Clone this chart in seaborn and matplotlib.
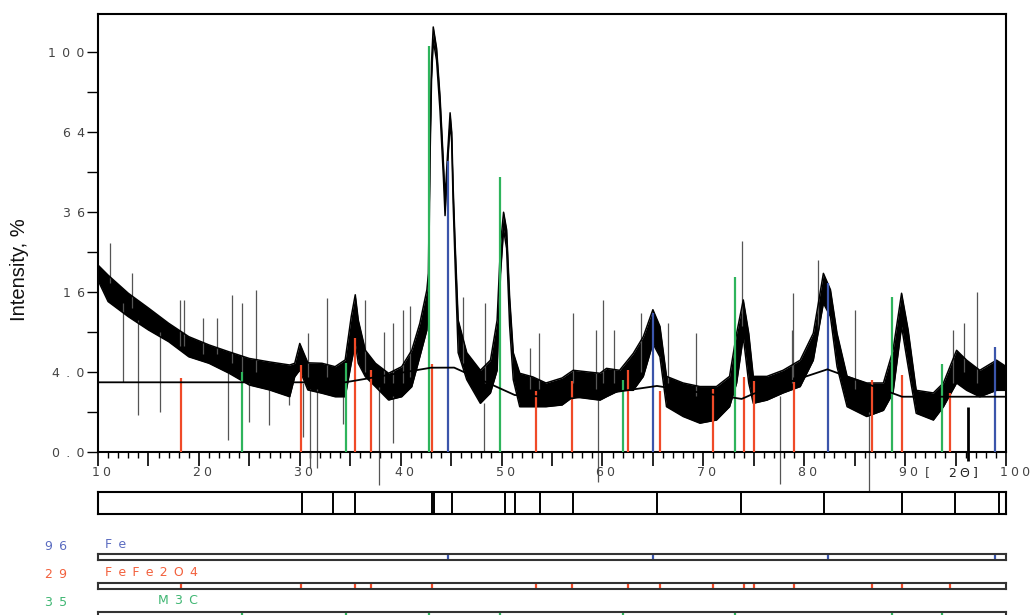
import numpy as np
import pandas as pd
import matplotlib
matplotlib.use("Agg")
import matplotlib.pyplot as plt
from matplotlib.ticker import MultipleLocator, NullFormatter
from matplotlib.transforms import ScaledTranslation
import seaborn as sns

sns.set_theme(style="white")
plt.rcParams['font.family'] = ['DejaVu Sans']

# ---- measured pattern (upper / lower edge of the noisy trace), 2theta in degrees ----
two_theta = [10.0, 11.0, 13.0, 15.0, 17.0, 19.0, 21.0, 23.0, 25.0, 27.0, 29.0, 29.5, 30.0, 30.8,
             32.2, 33.5, 34.5, 35.1, 35.5, 35.8, 36.5, 37.5, 38.8, 40.1, 41.1, 41.9, 42.6, 42.75,
             42.9, 43.06, 43.23, 43.56, 43.9, 44.24, 44.4, 44.64, 44.9, 45.06, 45.2, 45.4, 45.7,
             46.55, 47.9, 48.9, 49.56, 49.9, 50.2, 50.5, 50.8, 51.16, 51.8, 53.1, 54.4, 56.0, 57.1,
             59.75, 60.4, 61.7, 63.05, 64.05, 65.0, 65.7, 66.35, 68.0, 69.66, 71.3, 72.6, 73.3,
             73.96, 74.5, 74.95, 76.3, 77.9, 79.6, 80.9, 81.9, 82.6, 83.25, 84.25, 86.2, 87.85,
             88.8, 89.65, 90.3, 91.1, 92.8, 93.8, 95.1, 96.1, 97.4, 99.06, 100.0]
upper = [21.9, 19.6, 15.8, 13.0, 10.4, 8.35, 7.2, 6.3, 5.5, 5.1, 4.76, 4.95, 7.4, 5.0,
         4.95, 4.58, 5.33, 11.5, 15.5, 10.9, 6.5, 4.95, 3.9, 4.58, 6.5, 10.4, 16.5, 20.0,
         60.0, 95.0, 113.0, 102.0, 79.0, 52.0, 40.0, 55.0, 72.0, 64.0, 44.0, 27.0, 10.9,
         6.2, 4.2, 5.3, 10.9, 27.0, 36.0, 31.0, 15.0, 6.2, 3.9, 3.55, 3.0, 3.45, 4.2,
         3.9, 4.4, 4.2, 6.1, 8.35, 12.7, 9.9, 3.6, 3.0, 2.7, 2.7, 3.6, 8.85,
         14.5, 8.85, 3.6, 3.6, 4.2, 5.3, 8.85, 20.0, 16.5, 8.85, 3.6, 3.0, 3.0,
         6.5, 15.8, 9.35, 2.4, 2.2, 3.0, 6.5, 5.3, 4.2, 5.3, 4.6]
lower = [18.5, 14.2, 11.5, 9.35, 7.65, 5.7, 4.95, 3.9, 2.83, 2.43, 1.93, 3.57, 4.23, 2.43,
         2.18, 1.93, 1.93, 4.95, 7.4, 4.95, 3.57, 2.69, 1.71, 1.93, 2.69, 5.7, 9.35, 14.0,
         52.0, 87.0, 106.0, 96.0, 73.0, 47.0, 35.0, 51.0, 68.0, 60.0, 39.0, 22.0, 6.2,
         3.3, 1.5, 2.2, 4.2, 20.0, 31.0, 26.0, 10.0, 3.3, 1.3, 1.3, 1.3, 1.4, 1.93,
         1.7, 1.93, 2.4, 2.4, 3.6, 7.4, 5.7, 1.3, 0.8, 0.53, 0.65, 1.3, 3.0,
         8.35, 3.0, 1.5, 1.7, 2.2, 2.7, 5.3, 13.9, 11.5, 4.6, 1.3, 0.8, 1.1,
         2.2, 9.9, 4.6, 0.95, 0.65, 1.3, 3.0, 2.4, 1.93, 2.4, 2.4]

# isolated noise spikes
spike_up_pos = [11.2, 13.4, 18.1, 18.5, 20.4, 21.8, 23.25, 24.24, 25.7, 30.78, 32.7, 36.46, 38.3,
                39.27, 40.26, 40.9, 46.2, 48.35, 52.8, 53.7, 57.1, 59.4, 60.1, 61.1, 63.8, 66.5,
                69.3, 73.8, 78.75, 78.9, 81.4, 85.0, 94.7, 95.8, 97.1]
spike_up_top = [27.3, 20.0, 14.5, 14.5, 11.2, 11.2, 15.5, 13.9, 16.5, 8.85, 14.8, 14.5, 9.1,
                10.4, 12.7, 13.3, 15.1, 13.9, 6.8, 8.85, 12.1, 9.35, 14.5, 9.35, 12.1, 10.4,
                8.85, 28.0, 9.35, 15.8, 23.1, 12.7, 9.35, 10.4, 16.1]
spike_up_base = [18.0, 13.0, 7.0, 7.0, 6.0, 6.0, 5.0, 4.0, 4.0, 3.5, 3.5, 4.0, 3.0,
                 3.0, 3.0, 3.5, 5.0, 3.0, 2.5, 2.5, 3.0, 2.5, 3.0, 3.0, 4.0, 3.0,
                 2.0, 10.0, 3.0, 3.5, 9.0, 2.5, 3.0, 4.0, 3.0]
spike_dn_pos = [12.5, 13.93, 16.1, 22.9, 24.96, 26.9, 28.9, 30.3, 31.0, 31.67, 34.3, 37.88,
                39.2, 48.3, 59.52, 77.63, 86.41]
spike_dn_bottom = [3.1, 0.87, 1.03, 0.09, 0.58, 0.47, 1.4, 0.15, -0.15, -0.15, 0.5, -0.67,
                   0.05, 0.0, -0.55, -0.63, -1.4]
spike_dn_base = [14.0, 11.0, 9.0, 4.0, 3.0, 2.5, 2.0, 3.0, 2.5, 2.5, 2.0, 2.7,
                 2.0, 1.5, 1.7, 2.0, 1.0]
dip_pos = [96.26]
dip_bottom = [-0.05]
dip_base = [1.3]

# fitted background
bg_theta = [10.0, 34.5, 43.0, 45.3, 51.3, 57.0, 65.4, 73.8, 74.9, 82.3, 89.7, 100.0]
bg_int = [3.06, 3.06, 4.47, 4.48, 2.05, 1.82, 2.75, 1.78, 2.12, 4.3, 1.93, 1.93]

# reference patterns
fe_pos = [44.67, 65.02, 82.33, 98.95]
fe_int = [53.0, 12.2, 18.0, 6.9]
mag_pos = [18.27, 30.1, 35.45, 37.07, 43.08, 53.45, 56.98, 62.57, 65.75, 70.95, 74.0, 75.0,
           79.0, 86.75, 89.65, 94.45]
mag_int = [3.48, 4.76, 8.12, 4.23, 4.84, 2.37, 3.2, 4.23, 2.37, 2.48, 3.57, 3.2,
           3.11, 3.27, 3.7, 2.2]
m3c_pos = [24.26, 34.6, 42.77, 49.8, 62.0, 73.1, 88.67, 93.7]
m3c_int = [4.06, 5.0, 103.0, 47.3, 3.27, 19.1, 15.0, 4.9]

# peak-region dividers
region_edges = [30.19, 33.32, 35.44, 43.1, 43.3, 45.11, 50.3, 51.34, 53.78, 57.09, 65.37,
                73.74, 81.98, 89.65, 94.95, 99.33]

phase_names = ['Fe', 'FeFe2O4', 'M3C']
phase_scores = ['96', '29', '35']

y_ticks = [0, 4, 16, 36, 64, 100]
y_tick_labels = ['0.0', '4.0', '16', '36', '64', '100']
y_minor = [1, 9, 25, 49, 81]
x_label_vals = [10, 20, 30, 40, 50, 60, 70, 80, 90, 100]

FE_C, MAG_C, M3C_C = '#3b55ab', '#f04a28', '#2eb45c'
FE_T, MAG_T, M3C_T = '#5a6bc0', '#f2603c', '#3fb672'
LBL = '#444444'


def spaced(s, gap='\u2002'):
    return gap.join(s)


def fwd(v):
    v = np.asarray(v, dtype=float)
    return np.sign(v) * np.sqrt(np.abs(v))


def inv(v):
    v = np.asarray(v, dtype=float)
    return np.sign(v) * v ** 2


W, H = 1032, 615
fig = plt.figure(figsize=(W / 100, H / 100), dpi=100)

# ---- main pattern axes ----
ax = fig.add_axes([98 / W, 1 - 452.3 / H, 908 / W, 438.3 / H])
ax.set_yscale('function', functions=(fwd, inv))

df = pd.DataFrame({'two_theta': two_theta, 'upper': upper, 'lower': lower})
ax.fill_between(df['two_theta'], df['lower'], df['upper'], color='black', lw=0, zorder=2)
sns.lineplot(data=df, x='two_theta', y='upper', ax=ax, color='black', lw=1.1,
             estimator=None, sort=False, zorder=3)
sns.lineplot(data=df, x='two_theta', y='lower', ax=ax, color='black', lw=1.1,
             estimator=None, sort=False, zorder=3)

ax.vlines(spike_up_pos, spike_up_base, spike_up_top, colors='#555555', lw=0.9, zorder=2)
ax.vlines(spike_dn_pos, spike_dn_bottom, spike_dn_base, colors='#555555', lw=0.9,
          zorder=2, clip_on=False)
ax.vlines(dip_pos, dip_bottom, dip_base, colors='black', lw=2.0, zorder=2, clip_on=False)

bg = pd.DataFrame({'two_theta': bg_theta, 'intensity': bg_int})
sns.lineplot(data=bg, x='two_theta', y='intensity', ax=ax, color='black', lw=1.3,
             estimator=None, sort=False, zorder=5)

ax.vlines(mag_pos, 0, mag_int, colors=MAG_C, lw=1.6, zorder=4)
ax.vlines(m3c_pos, 0, m3c_int, colors=M3C_C, lw=1.6, zorder=4)
ax.vlines(fe_pos, 0, fe_int, colors=FE_C, lw=1.6, zorder=4)

ax.set_xlim(10, 100)
ax.set_ylim(0, 120)
ax.set_xlabel('')
ax.set_ylabel('')

ax.xaxis.set_major_locator(MultipleLocator(5))
ax.xaxis.set_minor_locator(MultipleLocator(1))
ax.xaxis.set_major_formatter(NullFormatter())
ax.tick_params(axis='x', which='major', direction='out', length=10, width=1.2,
               color='black', bottom=True)
ax.tick_params(axis='x', which='minor', direction='out', length=4.5, width=1.0,
               color='black', bottom=True)

ax.set_yticks(y_ticks, labels=[spaced(t) for t in y_tick_labels])
ax.set_yticks(y_minor, minor=True)
ax.yaxis.set_minor_formatter(NullFormatter())
ax.tick_params(axis='y', which='both', direction='out', length=8, width=1.0,
               color='black', left=True, labelsize=9, labelcolor=LBL, pad=1.5)

for s in ax.spines.values():
    s.set_color('black')
    s.set_linewidth(1.5)

# x tick labels: placed just left of each tick, like the instrument software
lab_tr = ax.get_xaxis_transform() + ScaledTranslation(-0.06, -0.135, fig.dpi_scale_trans)
for v in x_label_vals:
    ax.text(v, 0, spaced(str(v), '\u2005'), transform=lab_tr, ha='left', va='top',
            fontsize=9, color=LBL)
ax.text(92.56, 0, '[', transform=lab_tr, ha='left', va='top', fontsize=9, color=LBL)
ax.text(94.94, 0, spaced('2\u0398]', '\u2005'), transform=lab_tr, ha='left', va='top',
        fontsize=9, color='#222222')

fig.text(20 / W, 1 - 270 / H, 'Intensity, %', rotation=90, ha='center', va='center',
         fontsize=14.5, family=['Liberation Sans', 'DejaVu Sans'], color='#111111')

# ---- peak-region strip ----
ax_r = fig.add_axes([98 / W, 101 / H, 908 / W, 22 / H])
ax_r.vlines(region_edges, 0, 1, colors='black', lw=1.4)
ax_r.set_xlim(10, 100)
ax_r.set_ylim(0, 1)
ax_r.set_xticks([])
ax_r.set_yticks([])
for s in ax_r.spines.values():
    s.set_color('black')
    s.set_linewidth(1.5)

# ---- phase stick rows ----
rows = [
    (fe_pos, FE_C, FE_T, 55.0),
    (mag_pos, MAG_C, MAG_T, 26.0),
    (m3c_pos, M3C_C, M3C_T, -2.7),
]
label_y = [547, 575, 603]
name_x = [105, 105, 158]
for i, (pos, col, tcol, bottom_px) in enumerate(rows):
    a = fig.add_axes([98 / W, bottom_px / H, 908 / W, 5.8 / H])
    a.vlines(pos, 0, 1, colors=col, lw=1.6)
    a.set_xlim(10, 100)
    a.set_ylim(0, 1)
    a.set_xticks([])
    a.set_yticks([])
    for s in a.spines.values():
        s.set_color('#333333')
        s.set_linewidth(1.5)
    fig.text(45 / W, 1 - label_y[i] / H, spaced(phase_scores[i]), color=tcol,
             fontsize=9, ha='left', va='center')
    fig.text(name_x[i] / W, 1 - (label_y[i] - 2) / H, spaced(phase_names[i]), color=tcol,
             fontsize=9, ha='left', va='center')

fig.savefig('out.png', dpi=100)
